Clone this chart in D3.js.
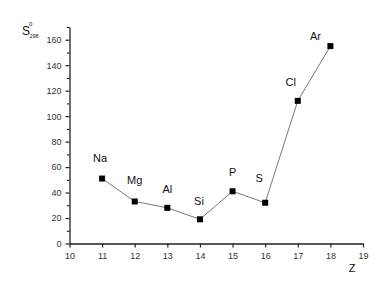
<!DOCTYPE html>
<html><head><meta charset="utf-8">
<script src="https://cdn.jsdelivr.net/npm/d3@7"></script>
<style>body{margin:0;background:#fff}svg{display:block}text{font-family:"Liberation Sans",Arial,sans-serif}</style>
</head><body>
<svg id="c" width="390" height="297"></svg>
<script>
const elements = ["Na","Mg","Al","Si","P","S","Cl","Ar"];
const zValues = [11,12,13,14,15,16,17,18];
const entropy = [51,33,28,19,41,32,112,155];
const xTicks = [10,11,12,13,14,15,16,17,18,19];
const yTicks = [0,20,40,60,80,100,120,140,160];
const labelDx = [-2,0,0,-1,0,-6,-7,-15];
const labelDy = [-17,-17,-15,-14,-15,-21,-15,-6];

const svg = d3.select("#c");
const x = d3.scaleLinear().domain([10,19]).range([69.5,363]);
const y = d3.scaleLinear().domain([0,170]).range([243.5,27]);

const xAxis = svg.append("g").attr("transform","translate(0,243.5)")
  .call(d3.axisBottom(x).tickValues(xTicks).tickFormat(d3.format("d")).tickSize(4).tickSizeOuter(0));
const yAxis = svg.append("g").attr("transform","translate(69.5,0)")
  .call(d3.axisLeft(y).tickValues(yTicks).tickSize(4).tickSizeOuter(0));
svg.append("g").attr("transform","translate(69.5,0)")
  .call(d3.axisLeft(y).tickValues(d3.range(10,171,20)).tickSize(2.5).tickFormat(""))
  .select(".domain").remove();
[xAxis,yAxis].forEach(a=>{
  a.select(".domain").attr("stroke","#222").attr("stroke-width",1.3);
  a.selectAll(".tick line").attr("stroke","#222").attr("stroke-width",1.2);
  a.selectAll(".tick text").attr("fill","#333").style("font-size","9px").style("font-family","Liberation Sans, Arial, sans-serif");
});
xAxis.selectAll(".tick text").attr("dy","0.9em");
yAxis.selectAll(".tick text").attr("dx","-1");

const pts = zValues.map((z,i)=>({z, s:entropy[i], el:elements[i], dx:labelDx[i], dy:labelDy[i]}));
svg.append("path").datum(pts)
  .attr("fill","none").attr("stroke","#777").attr("stroke-width",1)
  .attr("d", d3.line().x(d=>x(d.z)).y(d=>y(d.s)));
svg.selectAll("rect.m").data(pts).join("rect").attr("class","m")
  .attr("x",d=>x(d.z)-3).attr("y",d=>y(d.s)-3).attr("width",6).attr("height",6).attr("fill","#000");
svg.selectAll("text.lab").data(pts).join("text").attr("class","lab")
  .attr("x",d=>x(d.z)+d.dx).attr("y",d=>y(d.s)+d.dy)
  .attr("text-anchor","middle").attr("fill","#111").style("font-size","11px").text(d=>d.el);

const yl = svg.append("text").attr("x",22).attr("y",35).attr("fill","#111").style("font-size","12px");
yl.append("tspan").text("S");
svg.append("text").attr("x",29).attr("y",26).attr("fill","#111").style("font-size","6px").text("0");
svg.append("text").attr("x",29.5).attr("y",38).attr("fill","#111").style("font-size","5.5px").text("298");
svg.append("text").attr("x",352).attr("y",272).attr("text-anchor","middle").attr("fill","#111").style("font-size","11px").text("Z");
</script>
</body></html>
